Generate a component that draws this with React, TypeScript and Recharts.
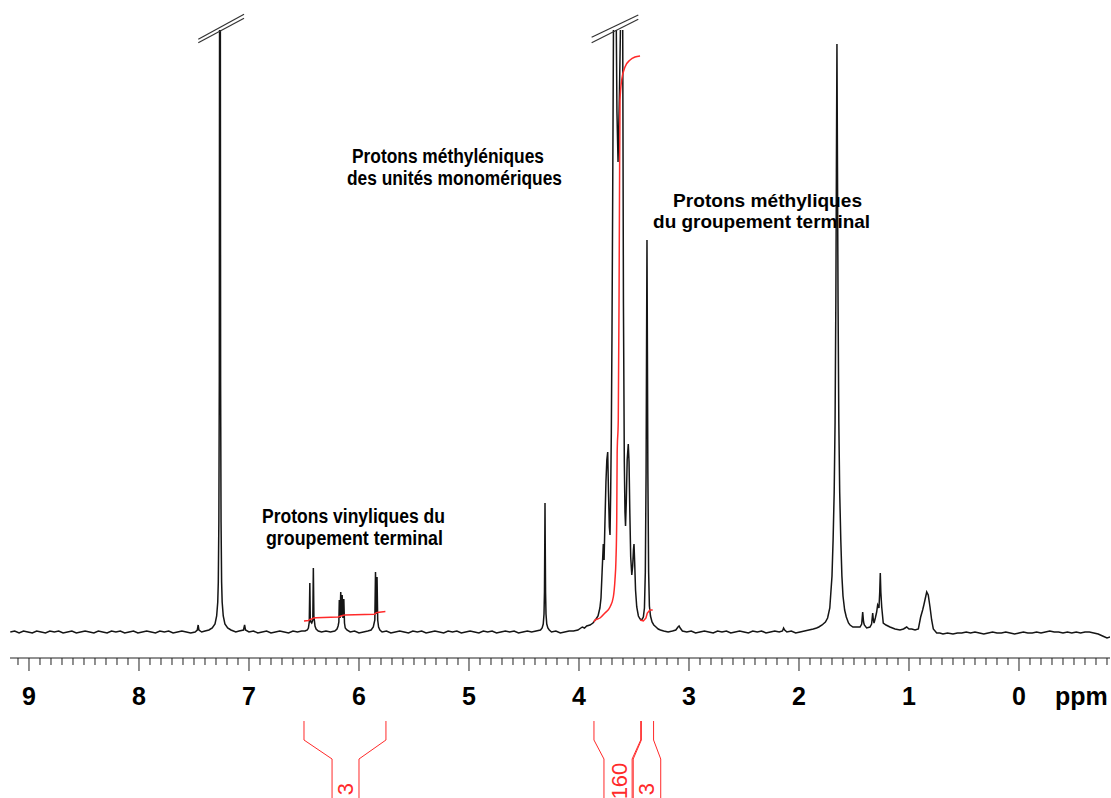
import { LineChart, Line, XAxis, YAxis, ReferenceLine, ReferenceDot, Label } from 'recharts'

type Point = [number, number]

// shift window in ppm (drawn high field on the right) and intensity window
const ppmDomain: [number, number] = [-0.8273, 9.1727]
const intensityDomain: [number, number] = [-26, 602]

const majorTicks = [9, 8, 7, 6, 5, 4, 3, 2, 1, 0]
const minorTicks = Array.from({ length: 100 }, (_, i) => Math.round((9.1 - i * 0.1) * 10) / 10)

// spectrum trace: [ppm, intensity], 0 is the baseline
const baselineLow: Point[] = [
  [9.17, 0], [9.13, 1], [9.09, -1], [9.05, 1], [9.01, 0], [8.97, -1], [8.93, 1], [8.89, 0],
  [8.85, -1], [8.81, 1], [8.77, 0], [8.73, 1], [8.69, -1], [8.65, 0], [8.61, 1], [8.57, -1],
  [8.53, 0], [8.49, 1], [8.45, 0], [8.41, -1], [8.37, 1], [8.33, 0], [8.29, -1], [8.25, 1],
  [8.21, 0], [8.17, 1], [8.13, -1], [8.09, 0], [8.05, 1], [8.01, -1], [7.97, 0], [7.93, 1],
  [7.89, 0], [7.85, -1], [7.81, 1], [7.77, 0], [7.73, 1], [7.69, -1], [7.65, 0], [7.61, 1],
  [7.57, 0], [7.53, -1], [7.49, 0], [7.47, 2], [7.462, 7], [7.455, 2], [7.43, 0], [7.4, 1],
]
const chloroform: Point[] = [
  [7.364, 2], [7.334, 4], [7.309, 8], [7.294, 16], [7.284, 30], [7.279, 50], [7.274, 110],
  [7.27, 250], [7.267, 700], [7.264, 1500], [7.261, 700], [7.258, 250], [7.254, 110],
  [7.249, 50], [7.244, 30], [7.234, 16], [7.219, 8], [7.194, 4], [7.164, 2],
  [7.12, 0], [7.09, 1], [7.05, 2], [7.04, 7], [7.032, 2], [7.0, 0], [6.96, 1], [6.92, -1],
  [6.88, 0], [6.84, 1], [6.8, -1], [6.76, 0], [6.72, 1], [6.68, 0], [6.64, -1], [6.6, 1],
  [6.56, 0], [6.52, 1], [6.49, 1],
]
const vinyl: Point[] = [
  [6.47, 2], [6.46, 4], [6.452, 10], [6.447, 49], [6.443, 14], [6.438, 10], [6.43, 9],
  [6.42, 12], [6.415, 64], [6.41, 16], [6.4, 6], [6.39, 3], [6.37, 1], [6.34, 0], [6.3, 1],
  [6.26, 0], [6.22, 1], [6.2, 3], [6.19, 6], [6.183, 10], [6.179, 32], [6.172, 14],
  [6.166, 40], [6.16, 16], [6.153, 37], [6.146, 14], [6.138, 33], [6.132, 9], [6.125, 4],
  [6.11, 2], [6.08, 0], [6.04, 1], [6.0, -1], [5.96, 0], [5.92, 1], [5.89, 2], [5.87, 5],
  [5.856, 12], [5.85, 60], [5.843, 18], [5.836, 55], [5.83, 12], [5.822, 5], [5.81, 2],
  [5.79, 0],
]
const baselineMid: Point[] = [
  [5.75, 1], [5.71, -1], [5.67, 0], [5.63, 1], [5.59, 0], [5.55, -1], [5.51, 1], [5.47, 0],
  [5.43, 1], [5.39, -1], [5.35, 0], [5.31, 1], [5.27, 0], [5.23, -1], [5.19, 1], [5.15, 0],
  [5.11, 1], [5.07, -1], [5.03, 0], [4.99, 1], [4.95, 0], [4.91, -1], [4.87, 1], [4.83, 0],
  [4.79, 1], [4.75, -1], [4.71, 0], [4.67, 1], [4.63, 0], [4.59, 1], [4.55, -1], [4.51, 0],
  [4.47, 1], [4.43, 0], [4.39, 1],
]
const ester: Point[] = [
  [4.35, 2], [4.335, 4], [4.325, 8], [4.318, 18], [4.314, 40], [4.311, 90], [4.309, 129],
  [4.307, 90], [4.304, 40], [4.3, 18], [4.293, 8], [4.283, 4], [4.27, 2], [4.25, 0],
  [4.21, 1], [4.17, -1], [4.13, 0], [4.09, 1], [4.05, 1], [4.01, 2], [3.97, 5], [3.95, 4],
]
const oxyethylene: Point[] = [
  [3.93, 6], [3.9, 7], [3.873, 9], [3.845, 13], [3.827, 16], [3.81, 24], [3.8, 34],
  [3.79, 60], [3.779, 88], [3.772, 72], [3.764, 110], [3.755, 150], [3.747, 172],
  [3.739, 180], [3.732, 140], [3.724, 105], [3.718, 97], [3.712, 140], [3.706, 200],
  [3.7, 300], [3.694, 430], [3.686, 620], [3.673, 2600], [3.662, 620], [3.655, 520],
  [3.645, 470], [3.632, 540], [3.621, 620], [3.612, 2600], [3.603, 620], [3.596, 330],
  [3.588, 170], [3.582, 120], [3.577, 106], [3.57, 130], [3.562, 172], [3.552, 188],
  [3.545, 170], [3.538, 120], [3.53, 75], [3.52, 57], [3.512, 66], [3.505, 82], [3.5, 88],
  [3.494, 70], [3.486, 42], [3.475, 25], [3.46, 16], [3.445, 13], [3.43, 12], [3.415, 15],
  [3.405, 24], [3.397, 60], [3.39, 160], [3.386, 280], [3.382, 392], [3.378, 280],
  [3.374, 160], [3.367, 60], [3.36, 26], [3.35, 16], [3.336, 10], [3.32, 7], [3.3, 5],
  [3.28, 3], [3.26, 2], [3.23, 1],
]
const baselineHigh: Point[] = [
  [3.19, 0], [3.15, 1], [3.12, 2], [3.1, 5], [3.09, 6], [3.08, 4], [3.06, 1], [3.02, 0],
  [2.98, 1], [2.94, -1], [2.9, 0], [2.86, 1], [2.82, 0], [2.78, -1], [2.74, 1], [2.7, 0],
  [2.66, 1], [2.62, -1], [2.58, 0], [2.54, 1], [2.5, 0], [2.46, -1], [2.42, 1], [2.38, 0],
  [2.34, 1], [2.3, -1], [2.26, 0], [2.22, 1], [2.18, 0], [2.15, 1], [2.14, 4], [2.13, 2],
  [2.11, 0], [2.07, 1], [2.03, -1], [1.99, 0], [1.95, 1], [1.91, 2], [1.87, 3], [1.84, 4],
]
const methyl: Point[] = [
  [1.82, 5], [1.79, 7], [1.76, 10], [1.74, 14], [1.72, 24], [1.7, 56], [1.69, 92],
  [1.68, 140], [1.672, 210], [1.665, 330], [1.66, 460], [1.655, 588], [1.65, 460],
  [1.645, 330], [1.638, 210], [1.63, 140], [1.62, 92], [1.61, 56], [1.6, 36], [1.585, 22],
  [1.57, 15], [1.55, 9], [1.536, 7], [1.51, 5], [1.49, 5], [1.445, 5], [1.43, 8],
  [1.421, 20], [1.413, 10], [1.406, 7], [1.385, 4], [1.355, 5], [1.34, 8], [1.33, 19],
  [1.324, 12], [1.318, 9], [1.306, 14], [1.294, 20], [1.285, 27], [1.273, 24], [1.266, 40],
  [1.261, 59], [1.256, 40], [1.248, 25], [1.234, 9], [1.209, 7], [1.173, 5], [1.127, 3],
  [1.082, 2], [1.05, 3], [1.021, 5], [1.0, 3], [0.975, 3], [0.945, 2], [0.915, 3],
  [0.894, 15], [0.876, 22], [0.865, 27], [0.855, 32], [0.839, 40], [0.825, 37], [0.809, 25],
  [0.794, 12], [0.779, 3], [0.748, -1], [0.72, -1], [0.691, -2], [0.65, -1], [0.6, -2],
  [0.56, -1], [0.52, -1],
]
const baselineEnd: Point[] = [
  [0.48, 0], [0.44, -1], [0.4, 0], [0.36, -1], [0.32, -2], [0.28, -1], [0.24, 0], [0.2, -1],
  [0.16, -1], [0.12, 0], [0.08, -1], [0.04, -2], [0.0, -1], [-0.04, 0], [-0.08, -1],
  [-0.12, -1], [-0.16, 0], [-0.2, -1], [-0.24, 0], [-0.28, 1], [-0.32, 0], [-0.36, 0],
  [-0.4, -1], [-0.44, 0], [-0.48, -1], [-0.52, 0], [-0.56, -1], [-0.6, 0], [-0.64, 0],
  [-0.68, -1], [-0.72, -2], [-0.76, -4], [-0.8, -6], [-0.83, -5],
]

// integral curves
const vinylIntegral: Point[] = [
  [6.5, 11], [6.46, 11.5], [6.447, 12.5], [6.43, 13], [6.412, 14], [6.39, 14.3], [6.19, 15],
  [6.17, 15.8], [6.15, 16.5], [6.13, 17], [5.86, 17.8], [5.848, 18.8], [5.834, 19.6],
  [5.76, 20.5],
]
const mainIntegral: Point[] = [
  [3.864, 10], [3.855, 12], [3.809, 14], [3.764, 19], [3.718, 25], [3.688, 35], [3.673, 52],
  [3.664, 72], [3.657, 112], [3.653, 179], [3.643, 212], [3.636, 332], [3.632, 432],
  [3.627, 532], [3.612, 552], [3.582, 565], [3.536, 572], [3.491, 575], [3.445, 576],
]
const endGroupIntegral: Point[] = [
  [3.445, 12], [3.415, 11], [3.391, 14], [3.379, 19], [3.355, 22], [3.33, 22],
]

// integral brackets below the axis
const integralValues = ['3', '160', '3']
const regionOuter: Point[] = [[6.5, 5.755], [3.864, 3.439], [3.433, 3.322]]
const regionInner: Point[] = [[6.245, 6.0], [3.773, 3.517], [3.507, 3.257]]
const regionLabelAt = [6.127, 3.631, 3.387]

// truncated peaks
const breakMarks: [Point, Point][] = [
  [[7.461, 592.7], [7.045, 617.7]],
  [[7.461, 589.3], [7.045, 613.7]],
  [[3.885, 594.7], [3.461, 617]],
  [[3.885, 589.3], [3.461, 612.7]],
]

const notes = [
  { at: [6.064, 469] as Point, lines: ['Protons méthyléniques', 'des unités monomériques'] },
  { at: [3.145, 425] as Point, lines: ['Protons méthyliques', 'du groupement terminal'] },
  { at: [6.882, 109] as Point, lines: ['Protons vinyliques du', 'groupement terminal'] },
]
const noteLayout = [
  [{ dx: 0, dy: 0, w: 192, size: 20 }, { dx: -5, dy: 22, w: 215, size: 20 }],
  [{ dx: 0, dy: 0, w: 189, size: 19 }, { dx: -20, dy: 21, w: 217, size: 19 }],
  [{ dx: 0, dy: 0, w: 183, size: 20 }, { dx: 4, dy: 22, w: 177, size: 20 }],
]

const toRows = (pts: Point[]) => pts.map(([ppm, h]) => ({ ppm, h }))

const spectrum = toRows([
  ...baselineLow, ...chloroform, ...vinyl, ...baselineMid, ...ester,
  ...oxyethylene, ...baselineHigh, ...methyl, ...baselineEnd,
])

const FONT = '"Liberation Sans", Arial, Helvetica, sans-serif'
const RED = '#ff2a2a'
const LEVEL = { top: -89, bend: -108, foot: -127, bottom: -168 }

function PpmTick(props: any) {
  const { x, y, payload } = props
  const v = payload.value as number
  const major = majorTicks.some((t) => Math.abs(t - v) < 1e-6)
  return (
    <g>
      <line x1={x} y1={y} x2={x} y2={y + (major ? 13 : 7)} stroke="#222" strokeWidth={1} />
      {major && (
        <text x={x} y={y + 47} textAnchor="middle" fontFamily={FONT} fontWeight="bold" fontSize={25} fill="#000">
          {Math.round(v)}
        </text>
      )}
    </g>
  )
}

function PpmLabel(props: any) {
  const vb = props.viewBox
  if (!vb) return null
  return (
    <text x={vb.x + vb.width - 55} y={vb.y + 47} fontFamily={FONT} fontWeight="bold" fontSize={25} fill="#000">
      ppm
    </text>
  )
}

function bracketSegments(i: number) {
  const [oL, oR] = regionOuter[i]
  const [iL, iR] = regionInner[i]
  const legs: [Point, Point][] = []
  for (const [o, n] of [[oL, iL], [oR, iR]]) {
    legs.push([[o, LEVEL.top], [o, LEVEL.bend]])
    legs.push([[o, LEVEL.bend], [n, LEVEL.foot]])
    legs.push([[n, LEVEL.foot], [n, LEVEL.bottom]])
  }
  return legs
}

export default function App() {
  return (
    <div style={{ position: 'absolute', left: 0, top: 0, width: 1111, height: 798, background: '#fff' }}>
      <LineChart width={1111} height={798} margin={{ top: 30, right: 1, bottom: 0, left: 10 }}>
        <XAxis
          dataKey="ppm"
          type="number"
          domain={ppmDomain}
          allowDataOverflow
          reversed
          ticks={minorTicks}
          interval={0}
          height={140}
          tickSize={0}
          tickMargin={0}
          tickLine={false}
          axisLine={{ stroke: '#222', strokeWidth: 1 }}
          tick={<PpmTick />}
        >
          <Label content={<PpmLabel />} />
        </XAxis>
        <YAxis hide type="number" domain={intensityDomain} allowDataOverflow />

        <Line data={spectrum} dataKey="h" type="linear" stroke="#151515" strokeWidth={1.5} dot={false} activeDot={false} isAnimationActive={false} />
        <Line data={toRows(vinylIntegral)} dataKey="h" type="linear" stroke={RED} strokeWidth={1.5} dot={false} activeDot={false} isAnimationActive={false} />
        <Line data={toRows(mainIntegral)} dataKey="h" type="monotone" stroke={RED} strokeWidth={1.5} dot={false} activeDot={false} isAnimationActive={false} />
        <Line data={toRows(endGroupIntegral)} dataKey="h" type="linear" stroke={RED} strokeWidth={1.5} dot={false} activeDot={false} isAnimationActive={false} />

        {breakMarks.map(([a, b], i) => (
          <ReferenceLine
            key={`brk${i}`}
            segment={[{ x: a[0], y: a[1] }, { x: b[0], y: b[1] }]}
            ifOverflow="visible"
            stroke="#333"
            strokeWidth={1.2}
          />
        ))}

        {integralValues.map((_, i) =>
          bracketSegments(i).map(([a, b], j) => (
            <ReferenceLine
              key={`br${i}-${j}`}
              segment={[{ x: a[0], y: a[1] }, { x: b[0], y: b[1] }]}
              ifOverflow="visible"
              stroke={RED}
              strokeWidth={1}
            />
          ))
        )}

        {integralValues.map((val, i) => (
          <ReferenceDot
            key={`iv${i}`}
            x={regionLabelAt[i]}
            y={val.length > 1 ? -149 : -157}
            r={0}
            ifOverflow="visible"
            shape={(p: any) => (
              <text
                x={p.cx}
                y={p.cy}
                textAnchor="middle"
                dominantBaseline="central"
                transform={`rotate(-90 ${p.cx} ${p.cy})`}
                fontFamily={FONT}
                fontSize={22}
                fill={RED}
              >
                {val}
              </text>
            )}
          />
        ))}

        {notes.map((note, i) => (
          <ReferenceDot
            key={`note${i}`}
            x={note.at[0]}
            y={note.at[1]}
            r={0}
            ifOverflow="visible"
            shape={(p: any) => (
              <g>
                {note.lines.map((line, j) => {
                  const l = noteLayout[i][j]
                  return (
                    <text
                      key={j}
                      x={p.cx + l.dx}
                      y={p.cy + l.dy}
                      textLength={l.w}
                      lengthAdjust="spacingAndGlyphs"
                      fontFamily={FONT}
                      fontWeight="bold"
                      fontSize={l.size}
                      fill="#000"
                    >
                      {line}
                    </text>
                  )
                })}
              </g>
            )}
          />
        ))}
      </LineChart>
    </div>
  )
}
